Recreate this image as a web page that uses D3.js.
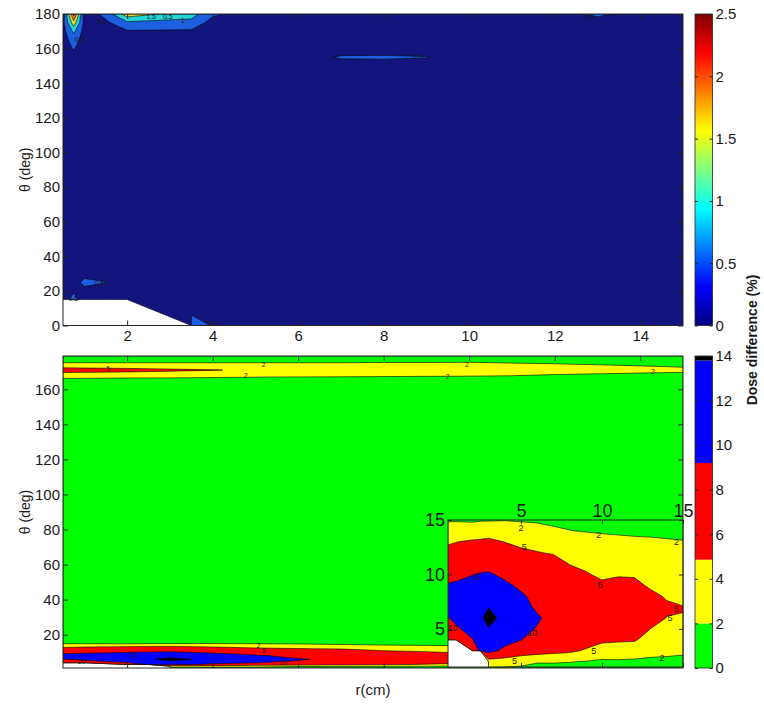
<!DOCTYPE html>
<html>
<head>
<meta charset="utf-8">
<script src="https://cdn.jsdelivr.net/npm/d3@7"></script>
<style>
  body { margin: 0; background: #fff; }
  svg text { font-family: "Liberation Sans", Arial, Helvetica, sans-serif; fill: #1a1a1a; }
</style>
</head>
<body>
<svg id="chart" width="764" height="704"></svg>
<script>
// ---- values ----
// top panel: dose difference (%) on an (r, theta) grid, null = no data
var topR = [0.5, 0.75, 1, 1.5, 2, 3.5, 4, 5, 6, 7, 8, 9, 10, 11, 12, 13, 14, 15];
var topTheta = [0, 15, 20, 25, 30, 40, 60, 80, 100, 120, 140, 150, 155, 160, 165, 170, 175, 180];
var topDose = [
  [null, null, null, null, null, 0.70, 0.48, 0.20, 0.18, 0.16, 0.15, 0.15, 0.15, 0.14, 0.14, 0.13, 0.13, 0.12],
  [0.30, 0.65, 0.30, 0.22, 0.20, 0.20, 0.20, 0.18, 0.16, 0.15, 0.15, 0.14, 0.14, 0.13, 0.13, 0.12, 0.12, 0.12],
  [0.22, 0.45, 0.35, 0.20, 0.18, 0.17, 0.16, 0.15, 0.15, 0.14, 0.14, 0.13, 0.13, 0.12, 0.12, 0.12, 0.11, 0.11],
  [0.20, 0.25, 0.65, 0.52, 0.20, 0.16, 0.15, 0.15, 0.14, 0.14, 0.13, 0.13, 0.12, 0.12, 0.12, 0.11, 0.11, 0.11],
  [0.18, 0.20, 0.30, 0.20, 0.17, 0.15, 0.14, 0.14, 0.13, 0.13, 0.12, 0.12, 0.12, 0.11, 0.11, 0.11, 0.10, 0.10],
  [0.16, 0.16, 0.15, 0.15, 0.14, 0.13, 0.13, 0.12, 0.12, 0.12, 0.11, 0.11, 0.11, 0.10, 0.10, 0.10, 0.10, 0.10],
  [0.14, 0.14, 0.13, 0.13, 0.12, 0.12, 0.11, 0.11, 0.11, 0.10, 0.10, 0.10, 0.10, 0.09, 0.09, 0.09, 0.09, 0.09],
  [0.13, 0.13, 0.12, 0.12, 0.12, 0.11, 0.11, 0.10, 0.10, 0.10, 0.10, 0.09, 0.09, 0.09, 0.09, 0.09, 0.08, 0.08],
  [0.13, 0.13, 0.12, 0.12, 0.11, 0.11, 0.10, 0.10, 0.10, 0.10, 0.09, 0.09, 0.09, 0.09, 0.09, 0.08, 0.08, 0.08],
  [0.14, 0.14, 0.13, 0.13, 0.12, 0.12, 0.11, 0.11, 0.11, 0.10, 0.10, 0.10, 0.10, 0.09, 0.09, 0.09, 0.09, 0.09],
  [0.15, 0.16, 0.15, 0.14, 0.13, 0.13, 0.12, 0.12, 0.12, 0.12, 0.12, 0.11, 0.11, 0.10, 0.10, 0.10, 0.10, 0.10],
  [0.16, 0.18, 0.16, 0.15, 0.14, 0.13, 0.13, 0.12, 0.12, 0.14, 0.15, 0.14, 0.12, 0.11, 0.11, 0.11, 0.10, 0.10],
  [0.18, 0.20, 0.18, 0.16, 0.15, 0.14, 0.13, 0.13, 0.15, 0.58, 0.60, 0.53, 0.15, 0.12, 0.12, 0.11, 0.11, 0.11],
  [0.20, 0.55, 0.20, 0.17, 0.16, 0.15, 0.14, 0.13, 0.13, 0.14, 0.15, 0.14, 0.12, 0.12, 0.12, 0.12, 0.11, 0.11],
  [0.25, 0.75, 0.25, 0.20, 0.22, 0.20, 0.16, 0.14, 0.13, 0.13, 0.13, 0.13, 0.12, 0.12, 0.13, 0.14, 0.12, 0.12],
  [0.30, 1.10, 0.30, 0.25, 0.45, 0.42, 0.25, 0.16, 0.14, 0.14, 0.13, 0.13, 0.13, 0.13, 0.14, 0.16, 0.13, 0.12],
  [0.35, 1.80, 0.35, 0.40, 0.90, 0.85, 0.30, 0.18, 0.15, 0.14, 0.14, 0.14, 0.14, 0.15, 0.16, 0.20, 0.14, 0.13],
  [0.20, 2.70, 0.20, 0.65, 1.80, 1.20, 0.60, 0.20, 0.16, 0.15, 0.15, 0.15, 0.15, 0.16, 0.20, 0.65, 0.20, 0.15]
];
var topLevels = [-1, 0.5, 1, 1.5, 2, 2.5];
var topColors = ["#14147f", "#1c5fe0", "#22d4d4", "#e8e030", "#f07020", "#b01818"];

// bottom panel (and inset): same layout, different data
var botR = [0.5, 1, 2, 2.5, 3, 4, 5, 6, 7, 8, 9, 10, 11, 12, 13, 14, 15];
var botTheta = [1, 2, 3, 4, 5, 6, 7, 8, 9, 10, 11, 12, 13, 14, 15, 20, 50, 90, 130, 160, 165, 167, 169, 171, 173, 175, 177, 179];
var botDose = [
  [null, null, null, null, 1.0, 1.0, 0.9, 0.8, 0.8, 0.8, 0.8, 0.8, 0.8, 0.8, 0.8, 0.8, 0.8],
  [null, null, null, null, 3.2, 3.0, 2.8, 2.2, 2.2, 2.1, 1.9, 1.6, 1.7, 1.6, 1.5, 1.5, 1.4],
  [null, null, 8.0, 10.5, 11.5, 9.0, 7.0, 6.5, 6.0, 5.6, 4.7, 3.6, 3.5, 3.3, 2.8, 2.6, 2.4],
  [6.0, 7.0, 9.8, 12.0, 12.3, 11.5, 10.1, 8.0, 7.5, 7.0, 6.3, 5.6, 5.4, 5.3, 3.8, 3.5, 3.3],
  [8.0, 9.4, 11.5, 12.6, 12.8, 12.0, 11.0, 9.8, 8.6, 7.8, 7.1, 6.4, 6.3, 6.2, 4.98, 4.3, 4.1],
  [9.8, 11.0, 12.5, 12.5, 14.0, 12.0, 11.3, 10.4, 9.0, 8.1, 7.4, 6.8, 6.8, 6.7, 5.8, 4.95, 4.95],
  [11.8, 12.0, 12.8, 12.8, 12.9, 11.8, 11.2, 9.5, 8.8, 7.9, 7.2, 6.6, 6.7, 6.6, 6.0, 5.3, 5.05],
  [12.0, 12.3, 12.5, 12.5, 12.5, 11.5, 10.6, 8.8, 8.3, 7.4, 6.8, 6.2, 6.4, 6.2, 5.5, 4.8, 4.6],
  [10.5, 10.6, 11.0, 11.5, 12.0, 10.8, 9.2, 8.0, 7.7, 6.6, 6.0, 5.4, 5.7, 5.5, 4.7, 4.2, 4.0],
  [8.0, 9.0, 9.9, 10.3, 10.5, 9.2, 8.0, 7.2, 7.0, 5.8, 5.2, 4.6, 4.8, 4.8, 4.1, 3.7, 3.5],
  [6.5, 7.0, 8.0, 8.3, 8.5, 7.5, 6.8, 6.3, 6.0, 4.9, 4.5, 4.0, 4.1, 4.0, 3.5, 3.2, 3.0],
  [5.5, 5.8, 6.5, 6.8, 7.0, 6.2, 5.4, 5.1, 4.8, 4.0, 3.7, 3.4, 3.4, 3.3, 3.0, 2.8, 2.6],
  [4.8, 4.95, 5.3, 5.4, 5.6, 4.95, 4.5, 4.2, 4.0, 3.2, 2.9, 2.6, 2.5, 2.4, 2.3, 2.2, 2.1],
  [3.0, 3.2, 3.5, 3.6, 3.8, 3.6, 3.0, 2.8, 2.3, 2.05, 1.9, 1.8, 1.7, 1.6, 1.6, 1.5, 1.4],
  [1.8, 1.8, 1.6, 1.8, 1.8, 1.9, 1.8, 1.7, 1.6, 1.5, 1.45, 1.4, 1.35, 1.3, 1.25, 1.2, 1.15],
  [1.3, 1.3, 1.25, 1.25, 1.2, 1.2, 1.15, 1.1, 1.1, 1.05, 1.05, 1.0, 1.0, 1.0, 0.95, 0.95, 0.9],
  [1.0, 1.0, 0.95, 0.95, 0.9, 0.9, 0.9, 0.85, 0.85, 0.85, 0.8, 0.8, 0.8, 0.8, 0.8, 0.75, 0.75],
  [0.9, 0.9, 0.85, 0.85, 0.85, 0.8, 0.8, 0.8, 0.75, 0.75, 0.75, 0.7, 0.7, 0.7, 0.7, 0.7, 0.7],
  [1.0, 1.0, 0.95, 0.95, 0.9, 0.9, 0.9, 0.85, 0.85, 0.85, 0.8, 0.8, 0.8, 0.8, 0.8, 0.75, 0.75],
  [1.2, 1.2, 1.15, 1.15, 1.1, 1.1, 1.1, 1.05, 1.05, 1.0, 1.0, 1.0, 1.0, 0.95, 0.95, 0.9, 0.9],
  [1.5, 1.5, 1.45, 1.45, 1.4, 1.4, 1.4, 1.35, 1.35, 1.3, 1.3, 1.25, 1.25, 1.2, 1.2, 1.15, 1.1],
  [2.3, 2.3, 2.2, 2.2, 2.2, 2.1, 2.02, 1.95, 1.9, 1.8, 1.7, 1.6, 1.55, 1.5, 1.4, 1.35, 1.3],
  [4.0, 4.0, 3.9, 3.9, 3.8, 3.7, 3.6, 3.5, 3.4, 3.3, 3.25, 3.2, 2.8, 2.2, 2.05, 1.9, 1.8],
  [7.5, 7.0, 6.3, 5.9, 5.6, 5.15, 4.5, 4.2, 4.0, 3.9, 3.85, 3.8, 3.5, 3.2, 2.9, 2.6, 2.4],
  [3.5, 3.5, 3.5, 3.4, 3.4, 3.4, 3.3, 3.3, 3.3, 3.25, 3.2, 3.2, 3.0, 2.7, 2.4, 2.1, 1.9],
  [2.05, 2.05, 2.05, 2.05, 2.05, 2.05, 2.05, 2.05, 2.05, 2.1, 2.1, 2.15, 1.98, 1.8, 1.6, 1.5, 1.4],
  [1.4, 1.4, 1.4, 1.4, 1.4, 1.4, 1.4, 1.4, 1.4, 1.4, 1.4, 1.4, 1.35, 1.35, 1.3, 1.3, 1.3],
  [1.2, 1.2, 1.2, 1.2, 1.2, 1.2, 1.2, 1.2, 1.2, 1.2, 1.2, 1.2, 1.15, 1.15, 1.1, 1.1, 1.1]
];
var botLevels = [-1, 2, 5, 10, 13];
var botColors = ["#00ff00", "#ffff00", "#ff0000", "#0000ff", "#000000"];

// colorbars
var topCbTicks = [0, 0.5, 1, 1.5, 2, 2.5];
var jetStops = [0, 0.125, 0.375, 0.625, 0.875, 1];
var jetColors = ["#000080", "#0000ff", "#00ffff", "#ffff00", "#ff0000", "#800000"];
var botCbTicks = [0, 2, 4, 6, 8, 10, 12, 14];
var botCbEdges = [0, 2, 4.86, 9.2, 13.8, 14];

// axis ticks
var rTicks = [2, 4, 6, 8, 10, 12, 14];
var topThetaTicks = [0, 20, 40, 60, 80, 100, 120, 140, 160, 180];
var botThetaTicks = [20, 40, 60, 80, 100, 120, 140, 160];
var insetTicks = [5, 10, 15];

// contour labels [r, theta, text]
var topLabels = [[1.4, 175.6, "0.5"], [0.88, 165, "0.5"], [2.56, 178.6, "1.5"], [2.95, 178.6, "0.5"],
  [3.3, 176, "1"], [8.8, 155.5, "0.5"], [12.8, 178.3, "0.5"], [0.74, 15.5, "0.5"], [1.35, 24.4, "0.5"], [3.95, 1.2, "0.5"]];
var botLabels = [[5.19, 173.9, "2"], [4.77, 167.6, "2"], [9.95, 173.9, "2"], [9.5, 167.2, "2"], [14.3, 170.2, "2"],
  [1.56, 171.6, "5"], [2.14, 8.3, "10"], [0.93, 4.8, "10"], [5.07, 13.8, "2"], [5.2, 11.2, "5"], [5.65, 4.3, "10"]];
var insetLabels = [[5.0, 14.3, "2"], [9.8, 13.6, "2"], [14.6, 13.0, "2"], [5.2, 12.5, "5"], [9.9, 9.0, "5"],
  [14.6, 6.8, "5"], [14.2, 6.0, "5"], [2.2, 9.8, "10"], [0.8, 5.1, "10"], [5.7, 4.6, "10"], [9.5, 3.0, "5"],
  [4.6, 2.05, "5"], [13.7, 2.3, "2"]];

// ---- drawing ----
var svg = d3.select("#chart");
var defs = svg.append("defs");
var fmt = d3.format("~g");
var ink = "#262626";

var xTop = d3.scaleLinear().domain([0.5, 15]).range([63, 683]);
var yTop = d3.scaleLinear().domain([0, 180]).range([325.5, 14]);
var xBot = d3.scaleLinear().domain([0.5, 15]).range([63, 683]);
var yBot = d3.scaleLinear().domain([1, 179]).range([668, 356]);
var xIn = d3.scaleLinear().domain([0.5, 15]).range([448, 683]);
var yIn = d3.scaleLinear().domain([1.5, 15]).range([667, 520]);

function makeClip(id, x, y) {
  defs.append("clipPath").attr("id", id).append("rect")
    .attr("x", x.range()[0]).attr("y", y.range()[1])
    .attr("width", x.range()[1] - x.range()[0])
    .attr("height", y.range()[0] - y.range()[1]);
  return svg.append("g").attr("clip-path", "url(#" + id + ")");
}

function drawContours(g, rNodes, tNodes, grid, levels, colors, x, y) {
  var n = rNodes.length, m = tNodes.length;
  var values = [];
  grid.forEach(function(row) {
    row.forEach(function(v) { values.push(v === null ? -1e6 : v); });
  });
  // grid index space -> data space (node i sits at i + 0.5)
  var ix = d3.scaleLinear().domain(d3.range(n).map(function(i) { return i + 0.5; })).range(rNodes).clamp(true);
  var iy = d3.scaleLinear().domain(d3.range(m).map(function(i) { return i + 0.5; })).range(tNodes).clamp(true);
  var path = d3.geoPath(d3.geoTransform({
    point: function(px, py) { this.stream.point(x(ix(px)), y(iy(py))); }
  }));
  var bands = d3.contours().size([n, m]).thresholds(levels)(values);
  g.selectAll(null).data(bands).enter().append("path")
    .attr("d", path)
    .attr("fill", function(d, i) { return colors[i]; })
    .attr("stroke", "#000")
    .attr("stroke-width", 0.6)
    .attr("stroke-linejoin", "round");
}

function drawLabels(g, labels, x, y, size) {
  g.selectAll(null).data(labels).enter().append("text")
    .attr("x", function(d) { return x(d[0]); })
    .attr("y", function(d) { return y(d[1]); })
    .attr("text-anchor", "middle")
    .attr("dominant-baseline", "central")
    .style("font-size", size + "px")
    .text(function(d) { return d[2]; });
}

function axisGroup(axis, tx, ty, size) {
  var g = svg.append("g")
    .attr("transform", "translate(" + tx + "," + ty + ")")
    .call(axis)
    .attr("font-size", size)
    .attr("font-family", null)
    .style("color", ink);
  g.select(".domain").remove();
  return g;
}

function frame(x, y, xTicks, yTicks, o) {
  var x0 = x.range()[0], x1 = x.range()[1], y0 = y.range()[1], y1 = y.range()[0];
  var t = o.tick;
  axisGroup(d3.axisBottom(x).tickValues(xTicks).tickSize(-t).tickPadding(o.padX)
    .tickFormat(o.xBottom ? fmt : ""), 0, y1, o.size);
  axisGroup(d3.axisTop(x).tickValues(xTicks).tickSize(-t).tickPadding(o.padX)
    .tickFormat(o.xTop ? fmt : ""), 0, y0, o.size);
  axisGroup(d3.axisLeft(y).tickValues(yTicks).tickSize(-t).tickPadding(o.padY)
    .tickFormat(fmt), x0, 0, o.size);
  axisGroup(d3.axisRight(y).tickValues(yTicks).tickSize(-t).tickFormat(""), x1, 0, o.size);
  svg.append("rect")
    .attr("x", x0).attr("y", y0).attr("width", x1 - x0).attr("height", y1 - y0)
    .attr("fill", "none").attr("stroke", ink).attr("stroke-width", 1);
}

// top panel
var gTop = makeClip("clipTop", xTop, yTop);
drawContours(gTop, topR, topTheta, topDose, topLevels, topColors, xTop, yTop);
drawLabels(gTop, topLabels, xTop, yTop, 7);
frame(xTop, yTop, rTicks, topThetaTicks, {tick: 5, padX: 5, padY: 3, size: 15, xBottom: true, xTop: false});

// bottom panel
var gBot = makeClip("clipBot", xBot, yBot);
drawContours(gBot, botR, botTheta, botDose, botLevels, botColors, xBot, yBot);
drawLabels(gBot, botLabels, xBot, yBot, 7);
frame(xBot, yBot, rTicks, botThetaTicks, {tick: 5, padX: 5, padY: 3, size: 15, xBottom: false, xTop: false});

// inset (zoom of low theta)
svg.append("rect")
  .attr("x", xIn.range()[0]).attr("y", yIn.range()[1])
  .attr("width", xIn.range()[1] - xIn.range()[0]).attr("height", yIn.range()[0] - yIn.range()[1])
  .attr("fill", "#fff");
var gIn = makeClip("clipIn", xIn, yIn);
drawContours(gIn, botR, botTheta, botDose, botLevels, botColors, xIn, yIn);
drawLabels(gIn, insetLabels, xIn, yIn, 9);
frame(xIn, yIn, insetTicks, insetTicks, {tick: 4, padX: 3, padY: 3, size: 18, xBottom: false, xTop: true});

// colorbars
var cbX = 695, cbW = 17.5;
var grad = defs.append("linearGradient").attr("id", "jet")
  .attr("x1", 0).attr("y1", 1).attr("x2", 0).attr("y2", 0);
grad.selectAll("stop").data(jetStops).enter().append("stop")
  .attr("offset", function(d) { return d; })
  .attr("stop-color", function(d, i) { return jetColors[i]; });

var cTop = d3.scaleLinear().domain([0, 2.5]).range([325.5, 14]);
svg.append("rect").attr("x", cbX).attr("y", cTop(2.5)).attr("width", cbW)
  .attr("height", cTop(0) - cTop(2.5)).attr("fill", "url(#jet)");

var cBot = d3.scaleLinear().domain([0, 14]).range([668, 356]);
svg.selectAll(null).data(botColors).enter().append("rect")
  .attr("x", cbX).attr("width", cbW)
  .attr("y", function(d, i) { return cBot(botCbEdges[i + 1]); })
  .attr("height", function(d, i) { return cBot(botCbEdges[i]) - cBot(botCbEdges[i + 1]); })
  .attr("fill", function(d) { return d; });

[[cTop, topCbTicks], [cBot, botCbTicks]].forEach(function(c) {
  var s = c[0];
  axisGroup(d3.axisRight(s).tickValues(c[1]).tickSize(-3).tickPadding(3).tickFormat(fmt), cbX + cbW, 0, 15);
  axisGroup(d3.axisLeft(s).tickValues(c[1]).tickSize(-3).tickFormat(""), cbX, 0, 15);
  svg.append("rect").attr("x", cbX).attr("y", s.range()[1]).attr("width", cbW)
    .attr("height", s.range()[0] - s.range()[1])
    .attr("fill", "none").attr("stroke", ink).attr("stroke-width", 0.8);
});

// axis titles
[yTop, yBot].forEach(function(y) {
  svg.append("text")
    .attr("transform", "translate(30," + ((y.range()[0] + y.range()[1]) / 2) + ") rotate(-90)")
    .attr("text-anchor", "middle")
    .style("font-size", "14px")
    .text("θ (deg)");
});
svg.append("text")
  .attr("x", (xBot.range()[0] + xBot.range()[1]) / 2)
  .attr("y", 695)
  .attr("text-anchor", "middle")
  .style("font-size", "15px")
  .text("r(cm)");
svg.append("text")
  .attr("transform", "translate(757,340) rotate(-90)")
  .attr("text-anchor", "middle")
  .style("font-size", "14px")
  .style("font-weight", "bold")
  .text("Dose difference (%)");
</script>
</body>
</html>
